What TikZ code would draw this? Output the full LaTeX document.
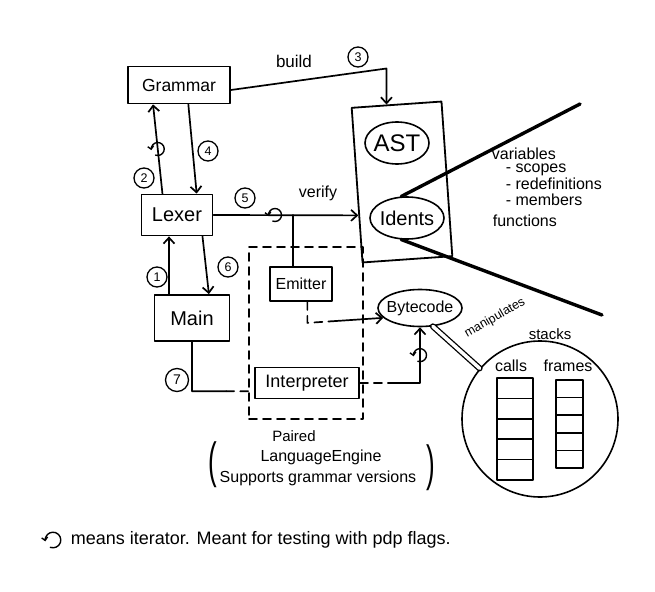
\documentclass[tikz,border=0pt]{standalone}
\usepackage{fontspec}
\setmainfont{Liberation Sans}
\usetikzlibrary{arrows.meta,calc,shapes.geometric}
\tikzset{
 box/.style={draw, rectangle, inner sep=0pt, line width=1.8pt},
 oval/.style={draw, ellipse, inner sep=-6pt, line width=1.6pt},
 num/.style={draw, circle, minimum size=20pt, inner sep=0pt, line width=1.3pt, font=\fontsize{12.5}{12.5}\selectfont},
 arr/.style={-{Straight Barb[length=6pt,width=11pt]}},
 dsh/.style={dash pattern=on 8pt off 6pt},
 txt/.style={inner sep=0pt},
 fA/.style={font=\fontsize{#1}{#1}\selectfont},
 iter/.pic={\draw[line width=1.4pt, -{Straight Barb[length=3pt,width=6pt]}] (0,0) ++(110:6.5) arc[start angle=110, end angle=-190, radius=6.5];}
}
\begin{document}
\begin{tikzpicture}[x=1pt,y=-1pt, line width=1.7pt, line cap=round, line join=round]
\useasboundingbox[fill=white] (0,0) rectangle (655,591);

% boxes
\node[box, minimum width=102pt, minimum height=37pt, fA=17.5] (grammar) at (179,85) {Grammar};
\node[box, minimum width=71pt, minimum height=41pt, fA=20] (lexer) at (177,215) {Lexer};
\node[box, minimum width=75pt, minimum height=46pt, fA=20] (main) at (192,318) {Main};
\node[box, minimum width=90pt, minimum height=155pt, rotate=4] (astbox) at (402,182) {};
\node[oval, minimum width=64pt, minimum height=42pt, fA=24] (ast) at (397,143) {AST};
\node[oval, minimum width=74pt, minimum height=42pt, fA=20] (idents) at (407,218) {Idents};
\node[draw, dsh, line width=1.8pt, minimum width=114pt, minimum height=172pt] (engine) at (306,333) {};
\node[box, minimum width=62pt, minimum height=34pt, fA=16] (emitter) at (301,284) {Emitter};
\node[box, minimum width=104pt, minimum height=31pt, fA=18] (interp) at (307,383) {Interpreter};
\node[oval, minimum width=84pt, minimum height=37pt, fA=16] (bytecode) at (420,308) {Bytecode};
\node[draw, circle, minimum size=156pt, inner sep=0pt, line width=1.6pt] (stackc) at (540,419) {};

% circled numbers
\node[num] (n1) at (157,277) {1};
\node[num] (n2) at (144,178) {2};
\node[num] (n3) at (358,57) {3};
\node[num] (n4) at (208,151) {4};
\node[num] (n5) at (245,198) {5};
\node[num] (n6) at (228,267) {6};
\node[num, minimum size=23pt, fA=14] (n7) at (177,380) {7};

% Grammar -> AST (build)
\coordinate (astin) at ($(astbox.north west)!0.39!(astbox.north east)$);
\coordinate (b3) at ($(astin)+(0,-36)$);
\draw[arr] ([yshift=-5pt]grammar.east) -- (b3) -- (astin);
\node[txt, fA=17] (tbuild) at (294,61) {build};

% Lexer <-> Grammar
\coordinate (lg1) at ($(lexer.north west)!0.3!(lexer.north east)$);
\coordinate (lg2) at ($(grammar.south west)!0.25!(grammar.south east)$);
\draw[arr] (lg1) -- (lg2);
\pic at ($(lg1)!0.5!(lg2)$) {iter};
\coordinate (gl1) at ($(grammar.south west)!0.59!(grammar.south east)$);
\coordinate (gl2) at ($(lexer.north west)!0.77!(lexer.north east)$);
\draw[arr] (gl1) -- (gl2);

% Lexer -> verify
\coordinate (vin) at ($(astbox.north west)!0.693!(astbox.south west)$);
\draw[arr] (lexer.east) -- (vin);
\pic at (275,215) {iter};
\node[txt, fA=16] (tverify) at (318,193) {verify};
\coordinate (et) at ($(emitter.north west)!0.37!(emitter.north east)$);
\draw (et) -- (et |- lexer.east);

% Main <-> Lexer
\coordinate (ml1) at ($(main.north west)!0.2!(main.north east)$);
\coordinate (ml2) at ($(lexer.south west)!0.39!(lexer.south east)$);
\draw[arr] (ml1) -- (ml2);
\coordinate (lm1) at ($(lexer.south west)!0.85!(lexer.south east)$);
\coordinate (lm2) at ($(main.north west)!0.72!(main.north east)$);
\draw[arr] (lm1) -- (lm2);

% Main -> Interpreter
\coordinate (i7) at ($(interp.west)!0.5!(interp.south west)$);
\coordinate (c7) at (main.south |- i7);
\coordinate (d7) at ($(c7)!0.55!(i7)$);
\draw (main.south) -- (c7) -- (d7);
\draw[dsh] (d7) -- (i7);

% Interpreter -> Bytecode
\coordinate (ib) at (bytecode.south |- interp.east);
\coordinate (ibd) at ($(interp.east)!0.55!(ib)$);
\draw[dsh] (interp.east) -- (ibd);
\draw[arr] (ibd) -- (ib) -- (bytecode.south);
\pic at ($(ib)!0.5!(bytecode.south)$) {iter};

% Emitter -> Bytecode
\coordinate (eb0) at ($(emitter.south west)!0.6!(emitter.south east)$);
\coordinate (eb1) at ($(eb0)+(0,21)$);
\coordinate (ebm) at ($(eb1)!0.3!(bytecode.195)$);
\draw[dsh] (eb0) -- (eb1) -- (ebm);
\draw[arr] (ebm) -- (bytecode.195);

% Idents lines
\coordinate (v1) at (580,104);
\coordinate (v2) at (602,315);
\draw[line width=3.4pt] (idents.105) -- (v1);
\draw[line width=3.4pt] (idents.255) -- (v2);

\node[txt, fA=16, anchor=base west] (tvar) at (491,159) {variables};
\node[txt, fA=16, anchor=base west] (tsc) at (505,172) {- scopes};
\node[txt, fA=16, anchor=base west] (tre) at (505,189) {- redefinitions};
\node[txt, fA=16, anchor=base west] (tme) at (505,205) {- members};
\node[txt, fA=16, anchor=base west] (tfu) at (492,226) {functions};

% manipulates
\draw[double, double distance=3.5pt, line width=1.3pt] (bytecode.305) -- (stackc.140);
\node[txt, fA=12.5, rotate=30] (tman) at (495,318) {manipulates};

% stacks
\node[txt, fA=15] (tstacks) at (550,334) {stacks};
\node[txt, fA=16] (tcalls) at (511,366) {calls};
\node[txt, fA=16] (tframes) at (568,366) {frames};
\draw[line width=1.6pt] (497,378) rectangle (533,480);
\foreach \k in {1,...,4} \draw[line width=1.6pt] (497,{378+\k*20.4}) -- (533,{378+\k*20.4});
\draw[line width=1.6pt] (556,380) rectangle (583,468);
\foreach \k in {1,...,4} \draw[line width=1.6pt] (556,{380+\k*17.6}) -- (583,{380+\k*17.6});

% engine label
\node[txt, fA=15] (tpaired) at (294,436) {Paired};
\node[txt, fA=16] (tlang) at (321,457) {LanguageEngine};
\node[txt, fA=16] (tsupp) at (318,478) {Supports grammar versions};
\node[txt, fA=26] (lpar) at (213,465) {\scalebox{1}[1.9]{(}};
\node[txt, fA=26] (rpar) at (431,468) {\scalebox{1}[1.9]{)}};

% legend
\pic[scale=1.2] at (53,540) {iter};
\node[txt, fA=18, anchor=west] (legend) at (70,540) {means iterator. Meant for testing with pdp flags.};
\end{tikzpicture}
\end{document}
